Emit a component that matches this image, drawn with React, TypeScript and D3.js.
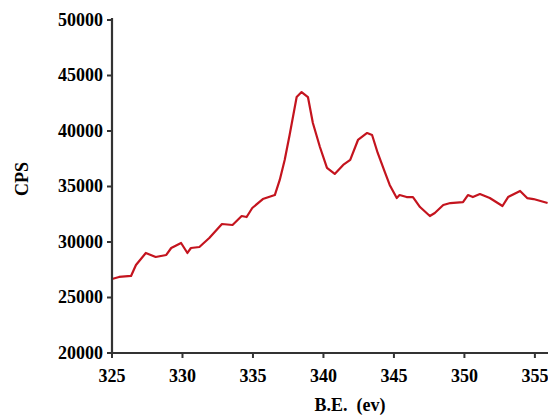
import React from "react";
import * as d3 from "d3";

const energy = [325.0, 325.5, 326.35, 326.7, 327.4, 328.1, 328.85, 329.2, 329.9, 330.35, 330.6, 331.2, 331.9, 332.8, 333.55, 334.2, 334.55, 334.95, 335.7, 336.55, 336.9, 337.25, 337.6, 338.1, 338.45, 338.9, 339.25, 339.75, 340.25, 340.8, 341.4, 341.9, 342.45, 343.1, 343.45, 343.85, 344.35, 344.7, 345.2, 345.4, 345.9, 346.35, 346.85, 347.55, 347.9, 348.5, 349.0, 349.9, 350.25, 350.6, 351.1, 351.8, 352.7, 353.1, 353.95, 354.45, 354.9, 355.9];
const cps = [26670, 26850, 26940, 27930, 29010, 28650, 28830, 29460, 29910, 29010, 29460, 29550, 30360, 31620, 31530, 32340, 32250, 33060, 33870, 34230, 35590, 37390, 39640, 43060, 43510, 43060, 40720, 38560, 36670, 36130, 36940, 37390, 39190, 39820, 39640, 38020, 36310, 35140, 33960, 34230, 34050, 34050, 33150, 32340, 32610, 33330, 33510, 33600, 34230, 34050, 34320, 33960, 33240, 34050, 34600, 33960, 33870, 33510];
const xTicks = [325, 330, 335, 340, 345, 350, 355];
const yTicks = [20000, 25000, 30000, 35000, 40000, 45000, 50000];

export default function App() {
  const W = 548, H = 416;
  const left = 112, right = 548, top = 20, bottom = 353;
  const x = d3.scaleLinear().domain([325, 355.93]).range([left, right]);
  const y = d3.scaleLinear().domain([20000, 50000]).range([bottom, top]);
  const pts = energy.map((e, i) => [e, cps[i]] as [number, number]);
  const line = d3.line<[number, number]>().x(d => x(d[0])).y(d => y(d[1]));
  const font = "'Liberation Serif', 'Times New Roman', serif";
  return (
    <svg width={W} height={H} style={{ position: "absolute", left: 0, top: 0, background: "#fff" }}>
      <path d={line(pts) || ""} fill="none" stroke="#c4141e" strokeWidth={2.2} strokeLinejoin="round" />
      <line x1={left} x2={left} y1={top - 2} y2={bottom + 1} stroke="#333" strokeWidth={2.2} />
      <line x1={left - 1} x2={right} y1={bottom} y2={bottom} stroke="#333" strokeWidth={2.2} />
      {yTicks.map(t => (
        <g key={t}>
          <line x1={left - 5} x2={left} y1={y(t)} y2={y(t)} stroke="#333" strokeWidth={2} />
          <text x={left - 9} y={y(t)} dy="0.33em" textAnchor="end" fontFamily={font} fontWeight="bold" fontSize={18}>{t}</text>
        </g>
      ))}
      {xTicks.map(t => (
        <g key={t}>
          <line x1={x(t)} x2={x(t)} y1={bottom} y2={bottom + 5} stroke="#333" strokeWidth={2} />
          <text x={x(t)} y={382} textAnchor="middle" fontFamily={font} fontWeight="bold" fontSize={18}>{t}</text>
        </g>
      ))}
      <text transform="translate(28,179) rotate(-90)" textAnchor="middle" fontFamily={font} fontWeight="bold" fontSize={18}>CPS</text>
      <text x={350} y={411} textAnchor="middle" fontFamily={font} fontWeight="bold" fontSize={18} style={{ whiteSpace: "pre" }}>{"B.E.  (ev)"}</text>
    </svg>
  );
}
